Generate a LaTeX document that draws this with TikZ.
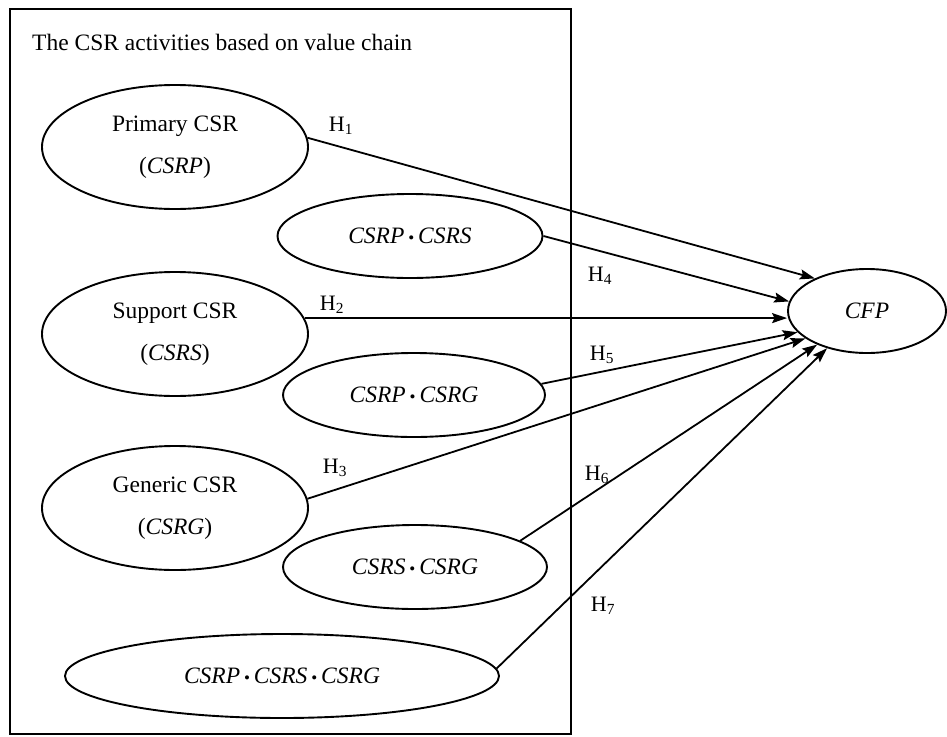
\documentclass[tikz,border=0pt]{standalone}
\usepackage{fontspec}
\setmainfont{Liberation Serif}
\usetikzlibrary{shapes.geometric,arrows.meta}

\newcommand{\mdot}{\,{\fontsize{17}{17}\selectfont\textbullet}\,}

\tikzset{
  oval/.style={draw,ellipse,line width=1.9pt,inner sep=0pt,align=center,
    font=\fontsize{23.5}{42}\selectfont},
  bigoval/.style={oval,minimum width=266pt,minimum height=124pt},
  smalloval/.style={oval,minimum height=84pt},
  hyp/.style={-{Stealth[length=15pt,width=10pt,inset=2.5pt]},line width=1.8pt},
  hlabel/.style={inner sep=0pt,font=\fontsize{22}{22}\selectfont}
}

\begin{document}
\begin{tikzpicture}[x=1pt,y=-1pt]
\useasboundingbox (0,0) rectangle (947,736);

%Shape: Rectangle
\draw[line width=1.9pt] (10,9) rectangle (571,734);
% Text Node
\node[anchor=west,inner sep=0pt,font=\fontsize{23.5}{28}\selectfont] (title) at (32,42) {The CSR activities based on value chain};

%Shape: Ellipse
\node[bigoval] (primary) at (175,147) {Primary CSR\\(\textit{CSRP})};
\node[smalloval,minimum width=265pt] (ps) at (410,236) {\textit{CSRP}\mdot\textit{CSRS}};
\node[bigoval] (support) at (175,334) {Support CSR\\(\textit{CSRS})};
\node[smalloval,minimum width=262pt] (pg) at (414,395) {\textit{CSRP}\mdot\textit{CSRG}};
\node[bigoval] (generic) at (175,508) {Generic CSR\\(\textit{CSRG})};
\node[smalloval,minimum width=264pt] (sg) at (415,567) {\textit{CSRS}\mdot\textit{CSRG}};
\node[smalloval,minimum width=434pt] (psg) at (282,676) {\textit{CSRP}\mdot\textit{CSRS}\mdot\textit{CSRG}};
\node[smalloval,minimum width=158pt] (cfp) at (867,311) {\textit{CFP}};

%Straight Lines
\draw[hyp] (primary.4) -- (cfp.148);
\draw[hyp] (ps.east) -- (cfp.173);
\draw[hyp] (support.7) -- (support.7 -| cfp.west);
\draw[hyp] (pg.5) -- (cfp.197);
\draw[hyp] (generic.4) -- (cfp.204);
\draw[hyp] (sg.14) -- (cfp.214);
\draw[hyp] (psg.2) -- (cfp.223);

% Text Node
\node[hlabel] (h1) at (341,126) {H\textsubscript{1}};
\node[hlabel] (h2) at (332,305) {H\textsubscript{2}};
\node[hlabel] (h3) at (335,468) {H\textsubscript{3}};
\node[hlabel] (h4) at (600,276) {H\textsubscript{4}};
\node[hlabel] (h5) at (602,355) {H\textsubscript{5}};
\node[hlabel] (h6) at (597,475) {H\textsubscript{6}};
\node[hlabel] (h7) at (603,606) {H\textsubscript{7}};

\end{tikzpicture}
\end{document}
